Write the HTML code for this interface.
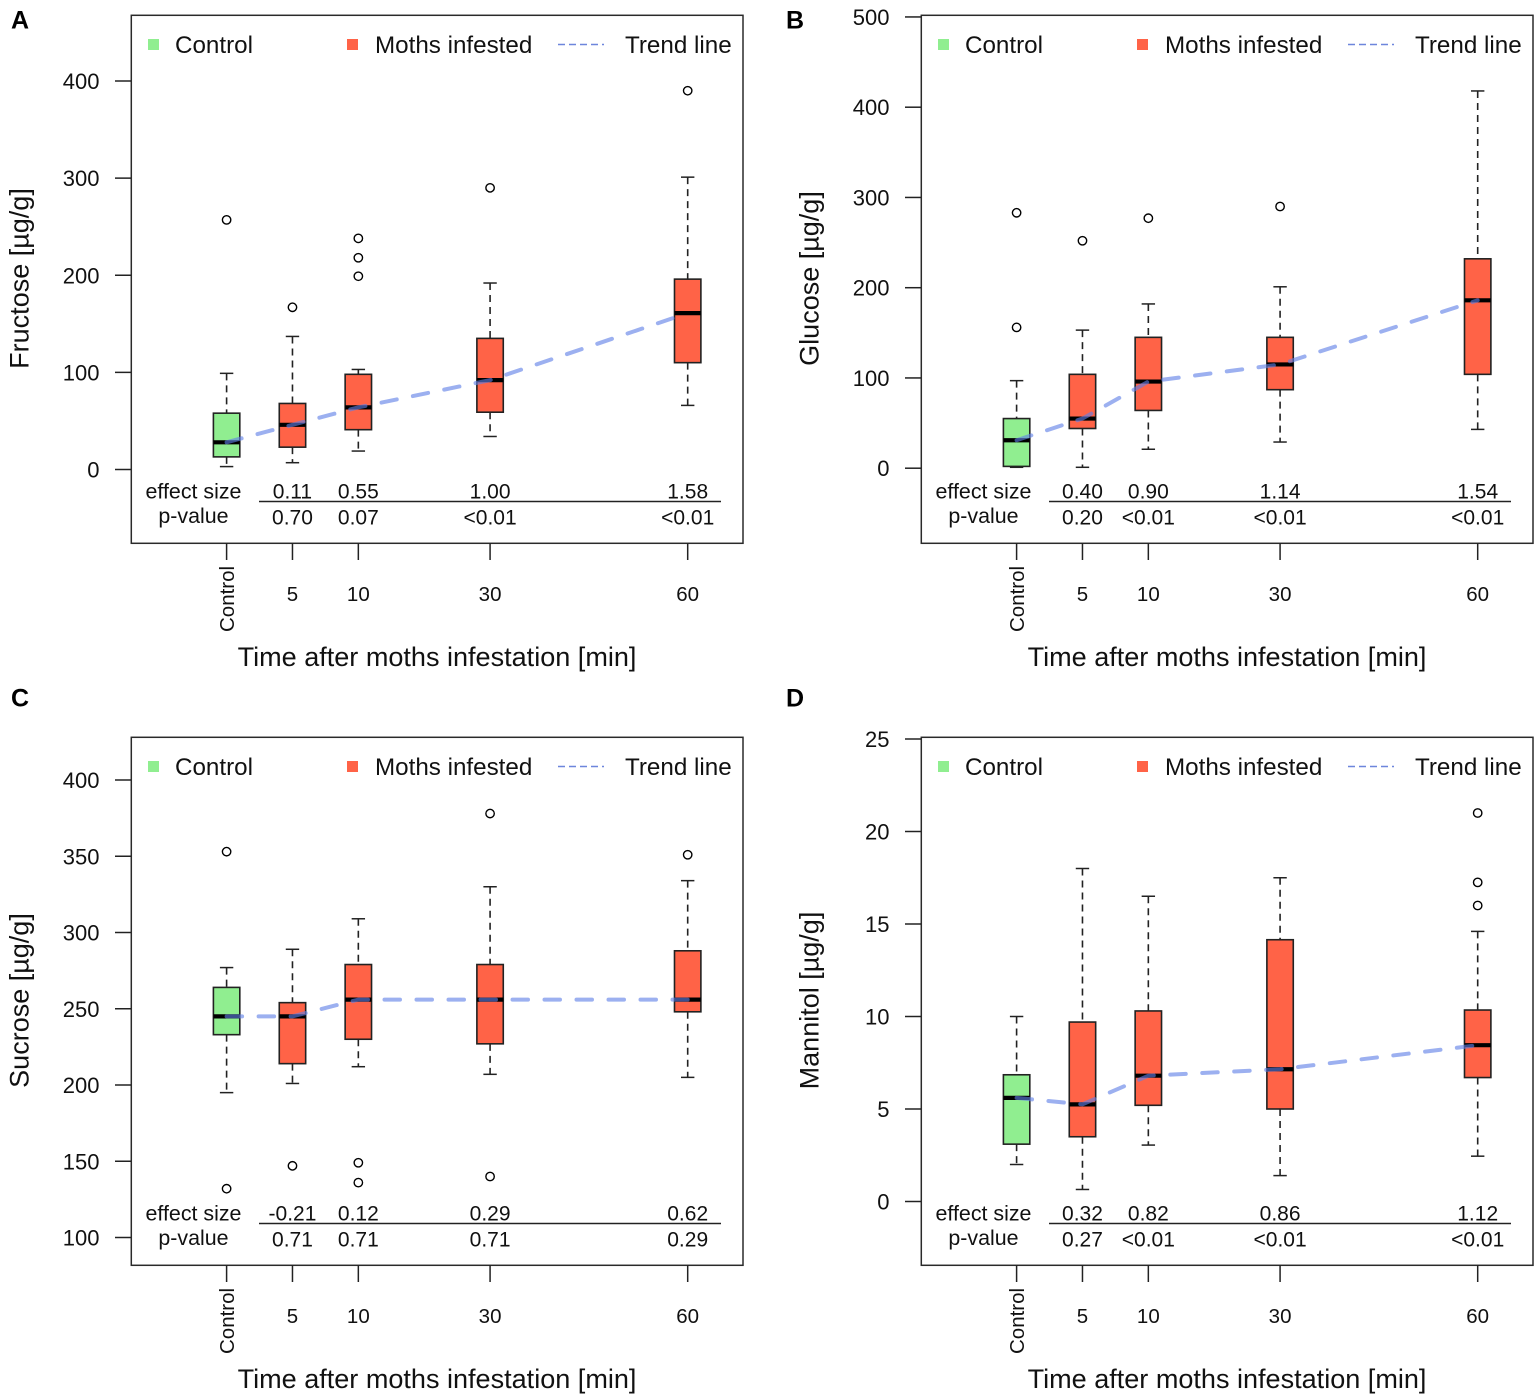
<!DOCTYPE html>
<html lang="en">
<head>
<meta charset="utf-8">
<title>Sugar content after moth infestation</title>
<style>
html,body{margin:0;padding:0;background:#fff;width:1535px;height:1395px;overflow:hidden}
svg{display:block;font-family:"Liberation Sans",Arial,sans-serif;fill:#111;filter:blur(0.3px)}
</style>
</head>
<body>
<svg id="chart" xmlns="http://www.w3.org/2000/svg" width="1535" height="1395" viewBox="0 0 1535 1395"></svg>
<script>
const categories = ["Control", "5", "10", "30", "60"];
const slotIndex = [1, 2, 3, 5, 8];

const fructoseBoxes = [[3,13,28,58,99],[7,23,46,68,137],[19,41,64,98,103],[34,59,92,135,192],[66,110,161,196,301]];
const fructoseOutliers = [[257],[167],[199,218,238],[290],[390]];
const fructoseEffect = ["0.11","0.55","1.00","1.58"];
const fructoseP = ["0.70","0.07","<0.01","<0.01"];
const fructoseTicks = [0,100,200,300,400];

const glucoseBoxes = [[1,2,31,55,97],[1,44,55,104,153],[21,64,96,145,182],[29,87,115,145,201],[43,104,186,232,418]];
const glucoseOutliers = [[156,283],[252],[277],[290],[]];
const glucoseEffect = ["0.40","0.90","1.14","1.54"];
const glucoseP = ["0.20","<0.01","<0.01","<0.01"];
const glucoseTicks = [0,100,200,300,400,500];

const sucroseBoxes = [[195,233,245,264,277],[201,214,245,254,289],[212,230,256,279,309],[207,227,256,279,330],[205,248,256,288,334]];
const sucroseOutliers = [[132,353],[147],[136,149],[140,378],[351]];
const sucroseEffect = ["-0.21","0.12","0.29","0.62"];
const sucroseP = ["0.71","0.71","0.71","0.29"];
const sucroseTicks = [100,150,200,250,300,350,400];

const mannitolBoxes = [[2,3.1,5.6,6.85,10],[0.65,3.5,5.25,9.7,18],[3.05,5.2,6.8,10.3,16.5],[1.4,5,7.15,14.15,17.5],[2.45,6.7,8.45,10.35,14.6]];
const mannitolOutliers = [[],[],[],[],[16,17.25,21]];
const mannitolEffect = ["0.32","0.82","0.86","1.12"];
const mannitolP = ["0.27","<0.01","<0.01","<0.01"];
const mannitolTicks = [0,5,10,15,20,25];

const svg = document.getElementById('chart');
const NS = 'http://www.w3.org/2000/svg';
const INK = '#222';

function add(parent, tag, attrs, name, interactable, content) {
  const el = document.createElementNS(NS, tag);
  for (const k in attrs) el.setAttribute(k, attrs[k]);
  
  
  if (content !== undefined) el.textContent = content;
  parent.appendChild(el);
  return el;
}

function drawPanel(p) {
  const dx = p.dx, dy = p.dy;
  const xScale = s => 226.6 + dx + 65.87 * (s - 1);
  const yScale = v => p.y0 + dy - p.k * (v - p.base);
  const g = add(svg, 'g', {}, p.key + '-panel', false);

  add(g, 'text', {x: p.letterX, y: p.letterY, 'font-size': 25, 'font-weight': 'bold', fill: '#000'}, p.key + '-panel-letter', false, p.letter);

  add(g, 'rect', {x: 131.3 + dx, y: 15.3 + dy, width: 611.7, height: 528, fill: 'none', stroke: '#2a2a2a', 'stroke-width': 1.5}, p.key + '-plot-frame', false);

  p.ticks.forEach(t => {
    const y = yScale(t);
    add(g, 'line', {x1: 115 + dx, x2: 131 + dx, y1: y, y2: y, stroke: INK, 'stroke-width': 1.5}, p.key + '-y-tick', false);
    add(g, 'text', {x: 99.5 + dx, y: y + 8, 'font-size': 22, 'text-anchor': 'end'}, p.key + '-y-tick-label', false, String(t));
  });

  add(g, 'text', {x: 0, y: 0, 'font-size': 27, 'text-anchor': 'middle', transform: 'translate(' + (28.5 + dx) + ',' + (278.5 + dy) + ') rotate(-90)'}, p.key + '-y-axis-title', false, p.title);

  categories.forEach((c, i) => {
    const x = xScale(slotIndex[i]);
    add(g, 'line', {x1: x, x2: x, y1: 543 + dy, y2: 560 + dy, stroke: INK, 'stroke-width': 1.5}, p.key + '-x-tick', false);
    if (c === 'Control') {
      add(g, 'text', {x: 0, y: 0, 'font-size': 20.5, 'text-anchor': 'start', transform: 'translate(' + (x + 7.5) + ',' + (632 + dy) + ') rotate(-90)'}, p.key + '-x-tick-label', false, c);
    } else {
      add(g, 'text', {x: x, y: 601 + dy, 'font-size': 20.5, 'text-anchor': 'middle'}, p.key + '-x-tick-label', false, c);
    }
  });

  add(g, 'text', {x: 437 + dx, y: 666 + dy, 'font-size': 27.05, 'text-anchor': 'middle'}, p.key + '-x-axis-title', false, 'Time after moths infestation [min]');

  p.boxes.forEach((b, i) => {
    const x = xScale(slotIndex[i]);
    const bg = add(g, 'g', {}, p.key + '-box-' + categories[i].toLowerCase(), false);
    add(bg, 'line', {x1: x, x2: x, y1: yScale(b[4]), y2: yScale(b[3]), stroke: INK, 'stroke-width': 1.6, 'stroke-dasharray': '7 5'}, 'upper-whisker', false);
    add(bg, 'line', {x1: x, x2: x, y1: yScale(b[1]), y2: yScale(b[0]), stroke: INK, 'stroke-width': 1.6, 'stroke-dasharray': '7 5'}, 'lower-whisker', false);
    add(bg, 'line', {x1: x - 6.7, x2: x + 6.7, y1: yScale(b[4]), y2: yScale(b[4]), stroke: INK, 'stroke-width': 1.5}, 'upper-cap', false);
    add(bg, 'line', {x1: x - 6.7, x2: x + 6.7, y1: yScale(b[0]), y2: yScale(b[0]), stroke: INK, 'stroke-width': 1.5}, 'lower-cap', false);
    add(bg, 'rect', {x: x - 13.2, y: yScale(b[3]), width: 26.4, height: yScale(b[1]) - yScale(b[3]), fill: i === 0 ? '#90EE90' : '#FF6347', stroke: INK, 'stroke-width': 1.6}, 'box-body', false);
    add(bg, 'line', {x1: x - 13.2, x2: x + 13.2, y1: yScale(b[2]), y2: yScale(b[2]), stroke: '#000', 'stroke-width': 4.2}, 'median-line', false);
    p.outliers[i].forEach(o => {
      add(bg, 'circle', {cx: x, cy: yScale(o), r: 4.2, fill: 'none', stroke: '#000', 'stroke-width': 1.4}, 'outlier-point', false);
    });
  });

  const pts = p.boxes.map((b, i) => xScale(slotIndex[i]) + ',' + yScale(b[2])).join(' ');
  add(g, 'polyline', {points: pts, fill: 'none', stroke: '#5f7fe6', 'stroke-opacity': 0.62, 'stroke-width': 4, 'stroke-linecap': 'round', 'stroke-dasharray': '15.5 16.5'}, p.key + '-trend-line', false);

  add(g, 'rect', {x: 148 + dx, y: 39 + dy, width: 11, height: 11, fill: '#90EE90'}, p.key + '-legend-control-swatch', false);
  add(g, 'text', {x: 175 + dx, y: 53 + dy, 'font-size': 24.2}, p.key + '-legend-control-label', false, 'Control');
  add(g, 'rect', {x: 347 + dx, y: 39 + dy, width: 11, height: 11, fill: '#FF6347'}, p.key + '-legend-moths-swatch', false);
  add(g, 'text', {x: 375 + dx, y: 53 + dy, 'font-size': 24.2}, p.key + '-legend-moths-label', false, 'Moths infested');
  add(g, 'line', {x1: 558 + dx, x2: 604 + dx, y1: 44.5 + dy, y2: 44.5 + dy, stroke: '#6d86dc', 'stroke-width': 1.6, 'stroke-dasharray': '7 4'}, p.key + '-legend-trend-swatch', false);
  add(g, 'text', {x: 625 + dx, y: 53 + dy, 'font-size': 24.2}, p.key + '-legend-trend-label', false, 'Trend line');

  add(g, 'text', {x: 193.5 + dx, y: 498.5 + dy, 'font-size': 21.4, 'text-anchor': 'middle'}, p.key + '-effect-size-heading', false, 'effect size');
  add(g, 'text', {x: 193.5 + dx, y: 523 + dy, 'font-size': 21.4, 'text-anchor': 'middle'}, p.key + '-p-value-heading', false, 'p-value');
  add(g, 'line', {x1: 259 + dx, x2: 721 + dx, y1: 501.5 + dy, y2: 501.5 + dy, stroke: INK, 'stroke-width': 1.5}, p.key + '-stats-divider', false);

  p.effect.forEach((e, i) => {
    const x = xScale(slotIndex[i + 1]);
    add(g, 'text', {x: x, y: 498.5 + dy, 'font-size': 21, 'text-anchor': 'middle'}, p.key + '-effect-size-value', false, e);
    add(g, 'text', {x: x, y: 524.5 + dy, 'font-size': 21, 'text-anchor': 'middle'}, p.key + '-p-value', false, p.pvals[i]);
  });
}

drawPanel({key: 'fructose', letter: 'A', letterX: 11, letterY: 28.5, title: 'Fructose [µg/g]', dx: 0, dy: 0, y0: 469.5, base: 0, k: 0.97125,
  boxes: fructoseBoxes, outliers: fructoseOutliers, effect: fructoseEffect, pvals: fructoseP, ticks: fructoseTicks});
drawPanel({key: 'glucose', letter: 'B', letterX: 786, letterY: 28.5, title: 'Glucose [µg/g]', dx: 790, dy: 0, y0: 468.2, base: 0, k: 0.9025,
  boxes: glucoseBoxes, outliers: glucoseOutliers, effect: glucoseEffect, pvals: glucoseP, ticks: glucoseTicks});
drawPanel({key: 'sucrose', letter: 'C', letterX: 11, letterY: 706.5, title: 'Sucrose [µg/g]', dx: 0, dy: 722, y0: 515.5, base: 100, k: 1.525,
  boxes: sucroseBoxes, outliers: sucroseOutliers, effect: sucroseEffect, pvals: sucroseP, ticks: sucroseTicks});
drawPanel({key: 'mannitol', letter: 'D', letterX: 786, letterY: 706.5, title: 'Mannitol [µg/g]', dx: 790, dy: 722, y0: 479.5, base: 0, k: 18.5,
  boxes: mannitolBoxes, outliers: mannitolOutliers, effect: mannitolEffect, pvals: mannitolP, ticks: mannitolTicks});
</script>
</body>
</html>
